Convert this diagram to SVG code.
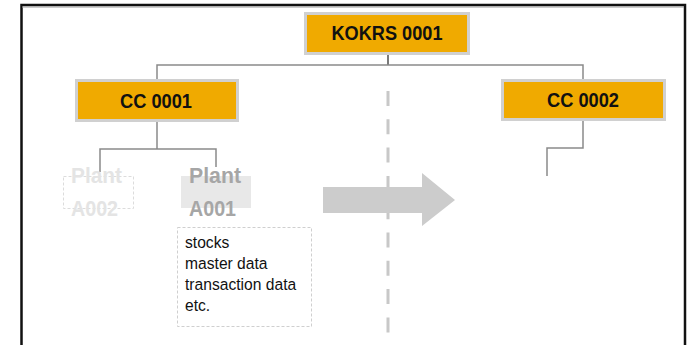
<svg xmlns="http://www.w3.org/2000/svg" width="687" height="345" viewBox="0 0 687 345">
<style>
.box{fill:#f0aa00;stroke:#d0d0d0;stroke-width:3}
.lbl{font-family:"Liberation Sans",Arial,sans-serif;font-weight:bold;font-size:19.5px;fill:#111;text-anchor:middle}
.plant{font-family:"Liberation Sans",Arial,sans-serif;font-weight:bold;font-size:22.5px}
.det{font-family:"Liberation Sans",Arial,sans-serif;font-size:17px;fill:#111}
.conn{fill:none;stroke:#8a8a8a;stroke-width:1.5}
</style>
<rect width="687" height="345" fill="#fff"/>
<g id="frame">
<path d="M21.5 345 V5 H685 V345" fill="none" stroke="#111" stroke-width="2.5"/>
<line x1="22" y1="7" x2="684" y2="7" stroke="#999" stroke-width="1"/>
</g>
<g id="connectors">
<line x1="388" y1="54" x2="388" y2="65" stroke="#222" stroke-width="1.2"/>
<path class="conn" d="M157 79 V65 H583 V79"/>
<path class="conn" d="M157 121 V149 M100 172 V149 H216 V167"/>
<path class="conn" d="M583 120 V148 H547 V176"/>
<line x1="388" y1="91" x2="388" y2="334" stroke="#c8c8c8" stroke-width="3" stroke-dasharray="15 13.3"/>
</g>
<g id="kokrs">
<rect class="box" x="305.5" y="13.5" width="163" height="40"/>
<text class="lbl" x="387" y="40" textLength="111" lengthAdjust="spacingAndGlyphs">KOKRS 0001</text>
</g>
<g id="cc0001">
<rect class="box" x="76.5" y="80.5" width="161" height="40"/>
<text class="lbl" x="156" y="108" textLength="72" lengthAdjust="spacingAndGlyphs">CC 0001</text>
</g>
<g id="cc0002">
<rect class="box" x="502.5" y="80.5" width="162" height="39"/>
<text class="lbl" x="583" y="107" textLength="72" lengthAdjust="spacingAndGlyphs">CC 0002</text>
</g>
<g id="plantA002">
<rect x="63.5" y="176.5" width="70" height="32" fill="none" stroke="#dcdcdc" stroke-width="1" stroke-dasharray="3 2"/>
<text class="plant" x="71" y="183" fill="#e4e4e4" textLength="51" lengthAdjust="spacingAndGlyphs">Plant</text>
<text class="plant" x="71" y="216" fill="#e4e4e4" textLength="47" lengthAdjust="spacingAndGlyphs">A002</text>
</g>
<g id="plantA001">
<rect x="181" y="176" width="70" height="32" fill="#e8e8e8"/>
<text class="plant" x="189" y="183" fill="#a6a6a6" textLength="52" lengthAdjust="spacingAndGlyphs">Plant</text>
<text class="plant" x="189" y="216" fill="#a6a6a6" textLength="47" lengthAdjust="spacingAndGlyphs">A001</text>
</g>
<g id="details">
<rect x="177.5" y="227.5" width="134" height="99" fill="none" stroke="#cfcfcf" stroke-width="1" stroke-dasharray="3 2"/>
<g transform="translate(185,0) scale(0.92,1)">
<text class="det" x="0" y="248">stocks</text>
<text class="det" x="0" y="269">master data</text>
<text class="det" x="0" y="290">transaction data</text>
<text class="det" x="0" y="311">etc.</text>
</g>
</g>
<g id="arrow">
<polygon points="323,187 422,187 422,173 455,200 422,226 422,213 323,213" fill="#cccccc"/>
</g>
</svg>
